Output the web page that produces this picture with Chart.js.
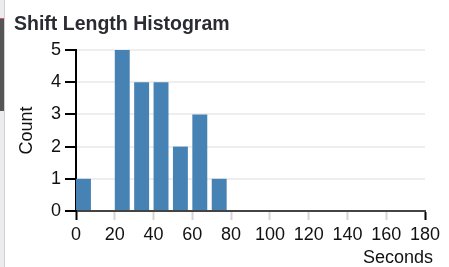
<!DOCTYPE html>
<html>
<head>
<meta charset="utf-8">
<script src="https://cdn.jsdelivr.net/npm/chart.js@4"></script>
<style>
  html, body { margin: 0; padding: 0; background: #fff; }
  #wrap { position: relative; width: 449px; height: 267px; overflow: hidden; }
  #edge { position: absolute; left: 0; top: 0; width: 4px; height: 267px; background: #ececf0; border-right: 1px solid #d0d0d6; }
  #edgeDark { position: absolute; left: 0; top: 18px; width: 4px; height: 92px; background: #555; border-top: 1px solid #e0506a; }
  canvas { position: absolute; left: 0; top: 0; }
  #xTitle { position: absolute; right: 16px; top: 248px; font: 18px/1 "Liberation Sans", Arial, sans-serif; color: #111; }
</style>
</head>
<body>
<div id="wrap">
  <canvas id="histChart" width="449" height="267"></canvas>
  <div id="edge"></div>
  <div id="edgeDark"></div>
  <div id="xTitle">Seconds</div>
</div>
<script>
const binStarts = [0, 10, 20, 30, 40, 50, 60, 70];
const counts = [1, 0, 5, 4, 4, 2, 3, 1];
const xTicks = [0, 20, 40, 60, 80, 100, 120, 140, 160, 180];
const yTicks = [0, 1, 2, 3, 4, 5];

// bars are drawn starting at the bin edge, so shift the centre a little
const barShift = 3.85;
const axisFont = { family: 'Liberation Sans', size: 18 };

const ctx = document.getElementById("histChart").getContext("2d");
new Chart(ctx, {
  type: 'bar',
  data: {
    datasets: [{
      data: binStarts.map((b, i) => ({ x: b + barShift, y: counts[i] })),
      backgroundColor: '#4682b4',
      borderWidth: 0,
      barPercentage: 0.77,
      categoryPercentage: 1.0
    }]
  },
  options: {
    responsive: false,
    animation: false,
    layout: { padding: { left: 14, right: 24, top: 0, bottom: 17.4 } },
    plugins: {
      legend: { display: false },
      tooltip: { enabled: false },
      title: {
        display: true,
        text: 'Shift Length Histogram',
        align: 'start',
        color: '#2b2b33',
        font: { family: 'Liberation Sans', size: 19.5, weight: 'bold' },
        padding: { top: 12.7, bottom: 13.9 }
      }
    },
    scales: {
      x: {
        type: 'linear',
        min: 0,
        max: 180,
        offset: false,
        afterBuildTicks: axis => { axis.ticks = xTicks.map(v => ({ value: v })); },
        border: { display: true, color: '#444', width: 2 },
        grid: {
          offset: false,
          drawOnChartArea: false,
          drawTicks: true,
          tickLength: 9,
          tickWidth: 2,
          tickColor: c => (c.tick && (c.tick.value === 0 || c.tick.value === 180)) ? '#000' : '#d4d4d4'
        },
        ticks: {
          color: '#111',
          font: axisFont,
          padding: 4,
          maxRotation: 0,
          autoSkip: false
        }
      },
      y: {
        min: 0,
        max: 5,
        afterBuildTicks: axis => { axis.ticks = yTicks.map(v => ({ value: v })); },
        border: { display: true, color: '#000', width: 2 },
        grid: {
          color: '#eeeeee',
          lineWidth: 2,
          drawTicks: true,
          tickLength: 11,
          tickWidth: 2,
          tickColor: '#000'
        },
        ticks: {
          color: '#111',
          font: axisFont,
          padding: 4
        },
        title: {
          display: true,
          text: 'Count',
          color: '#111',
          font: axisFont,
          padding: { top: 2.7, bottom: 8.7 }
        }
      }
    }
  }
});
</script>
</body>
</html>
